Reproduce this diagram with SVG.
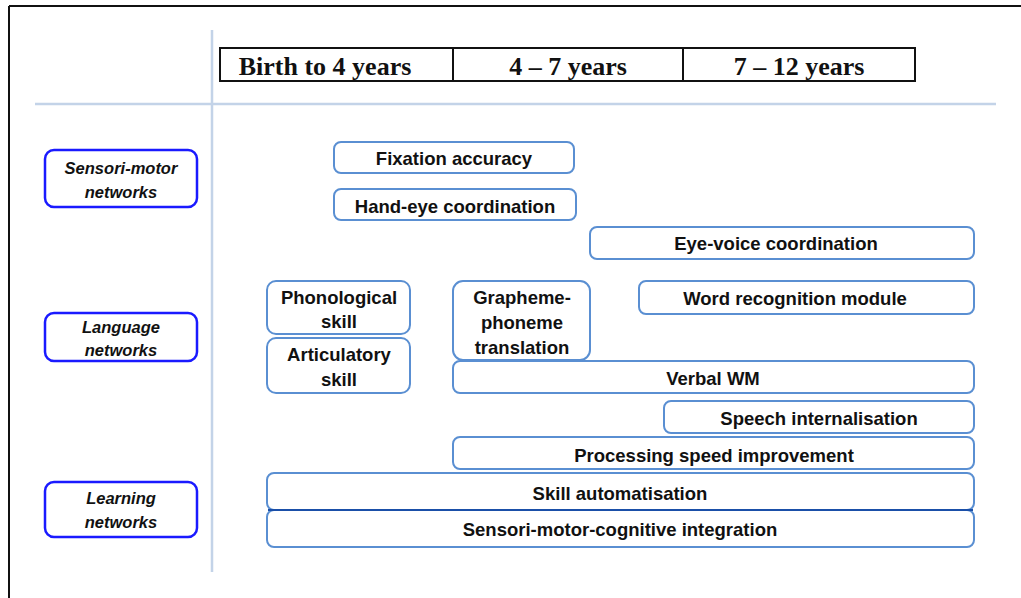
<svg xmlns="http://www.w3.org/2000/svg" width="1021" height="598" viewBox="0 0 1021 598">
<style>
.hdr{font-family:"Liberation Serif",serif;font-weight:bold;font-size:26px;fill:#111;text-anchor:middle}
.cat rect{fill:#fff;stroke:#1a1aff;stroke-width:2.5}
.cat text{font-family:"Liberation Sans",sans-serif;font-style:italic;font-weight:bold;font-size:16.5px;fill:#111;text-anchor:middle}
.item rect{fill:#fff;stroke:#5a8fd2;stroke-width:2}
.item text{font-family:"Liberation Sans",sans-serif;font-weight:bold;font-size:18.5px;fill:#111;text-anchor:middle}
.grid{stroke:#c3d3e8;stroke-width:2.5}
</style>
<rect width="1021" height="598" fill="#fff"/>
<g id="frame">
<line x1="9" y1="6" x2="1021" y2="6" stroke="#111" stroke-width="2"/>
<line x1="9" y1="6" x2="9" y2="598" stroke="#111" stroke-width="2"/>
</g>
<g id="grid">
<line class="grid" x1="35" y1="104" x2="996" y2="104"/>
<line class="grid" x1="212" y1="30" x2="212" y2="572"/>
</g>
<g id="header">
<rect x="220" y="48" width="695" height="33" fill="#fff" stroke="#111" stroke-width="2"/>
<line x1="453" y1="48" x2="453" y2="81" stroke="#111" stroke-width="2"/>
<line x1="683" y1="48" x2="683" y2="81" stroke="#111" stroke-width="2"/>
<text class="hdr" x="325" y="75">Birth to 4 years</text>
<text class="hdr" x="568" y="75">4 – 7 years</text>
<text class="hdr" x="799" y="75">7 – 12 years</text>
</g>
<g id="cat-sensori" class="cat">
<rect x="45" y="150" width="152" height="57" rx="9"/>
<text x="121" y="174">Sensori-motor</text>
<text x="121" y="198">networks</text>
</g>
<g id="cat-language" class="cat">
<rect x="45" y="313" width="152" height="48" rx="9"/>
<text x="121" y="333">Language</text>
<text x="121" y="356">networks</text>
</g>
<g id="cat-learning" class="cat">
<rect x="45" y="482" width="152" height="55" rx="9"/>
<text x="121" y="504">Learning</text>
<text x="121" y="528">networks</text>
</g>
<g id="n-fixation" class="item">
<rect x="334" y="142" width="240" height="31" rx="7"/>
<text x="454" y="165">Fixation accuracy</text>
</g>
<g id="n-handeye" class="item">
<rect x="334" y="189" width="242" height="31" rx="7"/>
<text x="455" y="213">Hand-eye coordination</text>
</g>
<g id="n-eyevoice" class="item">
<rect x="590" y="227" width="384" height="32" rx="7"/>
<text x="776" y="250">Eye-voice coordination</text>
</g>
<g id="n-phonological" class="item">
<rect x="267" y="281" width="143" height="53" rx="9"/>
<text x="339" y="304">Phonological</text>
<text x="339" y="328">skill</text>
</g>
<g id="n-articulatory" class="item">
<rect x="267" y="338" width="143" height="55" rx="9"/>
<text x="339" y="361">Articulatory</text>
<text x="339" y="386">skill</text>
</g>
<g id="n-verbalwm" class="item">
<rect x="453" y="361" width="521" height="32" rx="7"/>
<text x="713" y="385">Verbal WM</text>
</g>
<g id="n-grapheme" class="item">
<rect x="453" y="281" width="137" height="79" rx="10"/>
<text x="522" y="304">Grapheme-</text>
<text x="522" y="329">phoneme</text>
<text x="522" y="354">translation</text>
</g>
<g id="n-word" class="item">
<rect x="639" y="281" width="335" height="33" rx="7"/>
<text x="795" y="305">Word recognition module</text>
</g>
<g id="n-speech" class="item">
<rect x="664" y="401" width="310" height="32" rx="7"/>
<text x="819" y="425">Speech internalisation</text>
</g>
<g id="n-processing" class="item">
<rect x="453" y="437" width="521" height="32" rx="7"/>
<text x="714" y="462">Processing speed improvement</text>
</g>
<g id="n-sensorimotor" class="item">
<rect x="267" y="510" width="707" height="37" rx="7"/>
<text x="620" y="536">Sensori-motor-cognitive integration</text>
</g>
<g id="n-skill" class="item">
<rect x="267" y="473" width="707" height="37" rx="7"/>
<text x="620" y="500">Skill automatisation</text>
</g>
<g id="connectors">
<line x1="268" y1="510" x2="973" y2="510" stroke="#1a4fa8" stroke-width="2"/>
</g>
</svg>
